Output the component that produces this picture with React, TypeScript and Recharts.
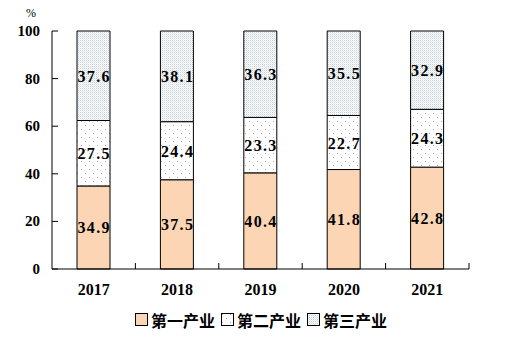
import React from "react";
import { BarChart, Bar, XAxis, YAxis, LabelList } from "recharts";

const years = ["2017", "2018", "2019", "2020", "2021"];
const primary = [34.9, 37.5, 40.4, 41.8, 42.8];
const secondary = [27.5, 24.4, 23.3, 22.7, 24.3];
const tertiary = [37.6, 38.1, 36.3, 35.5, 32.9];
const seriesNames = ["第一产业", "第二产业", "第三产业"];
const yTicks = [0, 20, 40, 60, 80, 100];

const data = years.map((y, i) => ({
  year: y,
  p1: primary[i],
  p2: secondary[i],
  p3: tertiary[i],
}));

const fills = ["#fcd5b4", "url(#dots2)", "url(#dots3)"];
const keys = ["p1", "p2", "p3"];

const SERIF = "'Liberation Serif', 'DejaVu Serif', serif";
const CJK = "'Noto Sans CJK SC', sans-serif";

function YTick(props: any) {
  const { x, y, payload } = props;
  return (
    <g>
      <line x1={x + 12} x2={x + 18} y1={y} y2={y} stroke="#000" />
      <text x={x} y={y} dy={5} textAnchor="end" fontFamily={SERIF} fontWeight="bold" fontSize={15} fill="#000">
        {payload.value}
      </text>
    </g>
  );
}

function XTick(props: any) {
  const { x, y, payload } = props;
  const half = payload.offset ?? 41.7;
  return (
    <g>
      <line x1={x + half} x2={x + half} y1={y} y2={y - 6} stroke="#000" />
      <text x={x} y={y} dy={26} textAnchor="middle" fontFamily={SERIF} fontWeight="bold" fontSize={16} fill="#000">
        {payload.value}
      </text>
    </g>
  );
}

function ValueLabel(props: any) {
  const { x, y, width, height, value } = props;
  const s = Number(value).toFixed(1);
  return (
    <text
      x={x + width / 2}
      y={y + height / 2}
      dy={6}
      textAnchor="middle"
      fontFamily={SERIF}
      fontWeight="bold"
      fontSize={16}
      fill="#000"
      textLength={32}
      lengthAdjust="spacing"
    >
      {s}
    </text>
  );
}

export default function App() {
  return (
    <div style={{ position: "absolute", left: 0, top: 0, width: 510, height: 357, background: "#fff" }}>
      <BarChart
        width={510}
        height={357}
        data={data}
        margin={{ top: 31, right: 41, left: 0, bottom: 58 }}
        barSize={33}
      >
        <defs>
          <pattern id="dots3" width="2" height="2" patternUnits="userSpaceOnUse">
            <rect width="2" height="2" fill="#ffffff" />
            <rect width="1" height="1" fill="#c3cfdb" />
            <rect x="1" y="1" width="1" height="1" fill="#e6ebf0" />
          </pattern>
          <pattern id="dots2" width="8" height="8" patternUnits="userSpaceOnUse">
            <rect width="8" height="8" fill="#ffffff" />
            <rect x="1" y="1" width="1" height="1" fill="#aaaaaa" />
            <rect x="5" y="5" width="1" height="1" fill="#aaaaaa" />
          </pattern>
        </defs>
        <XAxis
          dataKey="year"
          height={30}
          axisLine={{ stroke: "#000" }}
          tickLine={false}
          tickSize={0}
          tickMargin={0}
          tick={<XTick />}
          interval={0}
        />
        <YAxis
          width={52}
          domain={[0, 100]}
          ticks={yTicks}
          axisLine={{ stroke: "#000" }}
          tickLine={false}
          tickSize={0}
          tickMargin={12}
          tick={<YTick />}
          interval={0}
        />
        {keys.map((k, i) => (
          <Bar key={k} dataKey={k} stackId="a" fill={fills[i]} stroke="#000" strokeWidth={1} isAnimationActive={false}>
            <LabelList dataKey={k} content={<ValueLabel />} />
          </Bar>
        ))}
      </BarChart>
      <div style={{ position: "absolute", left: 26, top: 6, fontFamily: SERIF, fontSize: 12 }}>%</div>
      <div
        style={{
          position: "absolute",
          left: 0,
          top: 309,
          width: 510,
          display: "flex",
          justifyContent: "center",
          paddingLeft: 12,
          boxSizing: "border-box",
          fontFamily: CJK,
          fontSize: 16,
          fontWeight: "bold",
          lineHeight: "22px",
        }}
      >
        {seriesNames.map((n, i) => (
          <div key={n} style={{ display: "flex", alignItems: "center", marginRight: i < 2 ? 6 : 0 }}>
            <svg width={14} height={14} style={{ marginRight: 2 }}>
              <rect x={0.5} y={0.5} width={12} height={12} fill={fills[i]} stroke="#000" />
            </svg>
            <span>{n}</span>
          </div>
        ))}
      </div>
    </div>
  );
}
